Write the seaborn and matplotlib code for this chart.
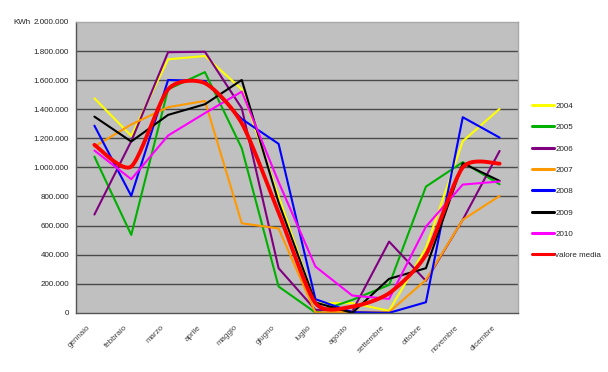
import numpy as np
import pandas as pd
import matplotlib
matplotlib.use('Agg')
import matplotlib.pyplot as plt
import seaborn as sns

# Data (kWh per month)
months = ['gennaio', 'febbraio', 'marzo', 'aprile', 'maggio', 'giugno',
          'luglio', 'agosto', 'settembre', 'ottobre', 'novembre', 'dicembre']

y2004 = [1475000, 1217000, 1743000, 1766000, 1537000, 800000,
         67000, 67000, 14000, 445000, 1180000, 1402000]
y2005 = [1074000, 536000, 1537000, 1655000, 1132000, 181000,
         2000, 89000, 192000, 868000, 1036000, 884000]
y2006 = [676000, 1180000, 1792000, 1795000, 1407000, 307000,
         21000, 10000, 490000, 220000, 640000, 1113000]
y2007 = [1143000, 1295000, 1414000, 1457000, 616000, 580000,
         2000, 8000, 5000, 227000, 640000, 804000]
y2008 = [1287000, 804000, 1601000, 1594000, 1333000, 1162000,
         94000, 5000, 0, 73000, 1345000, 1205000]
y2009 = [1349000, 1178000, 1361000, 1434000, 1601000, 760000,
         71000, 0, 234000, 307000, 1029000, 907000]
y2010 = [1116000, 919000, 1219000, 1373000, 1521000, 900000,
         318000, 119000, 96000, 593000, 882000, 903000]
media = [1155000, 1006000, 1537000, 1579000, 1304000, 690000,
         67000, 43000, 135000, 399000, 1000000, 1026000]

series_names = ['2004', '2005', '2006', '2007', '2008', '2009', '2010', 'valore media']
series_values = [y2004, y2005, y2006, y2007, y2008, y2009, y2010, media]
colors = ['#FFFF00', '#00B000', '#800080', '#FF9900', '#0000FF', '#000000', '#FF00FF', '#FF0000']


def smooth_curve(xs, ys, k=0.12, steps=24):
    # smoothed line through the points (cardinal Bezier)
    xs = np.asarray(xs, float)
    ys = np.asarray(ys, float)
    px = np.concatenate([[xs[0]], xs, [xs[-1]]])
    py = np.concatenate([[ys[0]], ys, [ys[-1]]])
    out_x, out_y = [], []
    t = np.linspace(0, 1, steps)
    for i in range(1, len(px) - 2):
        p0 = np.array([px[i], py[i]])
        p3 = np.array([px[i + 1], py[i + 1]])
        c1 = p0 + (np.array([px[i + 1], py[i + 1]]) - np.array([px[i - 1], py[i - 1]])) * k
        c2 = p3 - (np.array([px[i + 2], py[i + 2]]) - np.array([px[i], py[i]])) * k
        b = ((1 - t) ** 3)[:, None] * p0 + (3 * (1 - t) ** 2 * t)[:, None] * c1 \
            + (3 * (1 - t) * t ** 2)[:, None] * c2 + (t ** 3)[:, None] * p3
        out_x.extend(b[:, 0])
        out_y.extend(b[:, 1])
    return np.array(out_x), np.array(out_y)


sns.set_style('white')
plt.rcParams['font.family'] = ['Liberation Sans', 'DejaVu Sans']

fig = plt.figure(figsize=(6.08, 3.72), dpi=100)
ax = fig.add_axes([0.125, 0.159, 0.727, 0.782])
ax.set_facecolor('#C0C0C0')

x = np.arange(len(months))
for name, vals, col in zip(series_names, series_values, colors):
    if name == 'valore media':
        sx, sy = smooth_curve(x, vals)
        sns.lineplot(x=sx, y=sy, color=col, linewidth=2.8, ax=ax, label=name,
                     sort=False, estimator=None)
    else:
        sns.lineplot(x=x, y=vals, color=col, linewidth=1.5, ax=ax, label=name,
                     estimator=None)

ax.set_xlim(-0.5, 11.5)
ax.set_ylim(0, 2000000)

yt = np.arange(0, 2000001, 200000)
ax.set_yticks(yt)
ax.set_yticklabels([f'{v:,.0f}'.replace(',', '.') for v in yt], fontsize=5.8, color='#222222')
for v in yt[1:-1]:
    ax.axhline(v, color='#4a4a4a', linewidth=1.0, zorder=0.5)

ax.set_xticks(np.arange(-0.5, 12, 1))
ax.set_xticklabels([])
ax.set_xticks(x - 0.2, minor=True)
ax.set_xticklabels(months, minor=True, rotation=45, ha='right',
                   rotation_mode='anchor', fontsize=5.8, color='#444444')
ax.tick_params(axis='x', which='minor', length=0, pad=8)
ax.tick_params(axis='x', which='major', length=3, color='#444444', width=0.8, direction='out')
ax.tick_params(axis='y', length=3, color='#444444', width=0.8, direction='out', pad=2)
ax.set_xlabel('')
ax.set_ylabel('')

for s in ['left', 'bottom']:
    ax.spines[s].set_color('#555555')
    ax.spines[s].set_linewidth(1.0)
for s in ['top', 'right']:
    ax.spines[s].set_color('#A8A8A8')
    ax.spines[s].set_linewidth(1.0)

fig.text(13 / 608, 1 - 22 / 372, 'KWh', fontsize=5.8, color='#222222', va='center')

leg = ax.legend(loc='upper left', bbox_to_anchor=(1.025, 0.735), frameon=False,
                fontsize=5.8, handlelength=2.7, handletextpad=0.15,
                labelspacing=1.7, borderaxespad=0)
for line in leg.get_lines():
    line.set_linewidth(2.2)

fig.savefig('out.png', dpi=100)
